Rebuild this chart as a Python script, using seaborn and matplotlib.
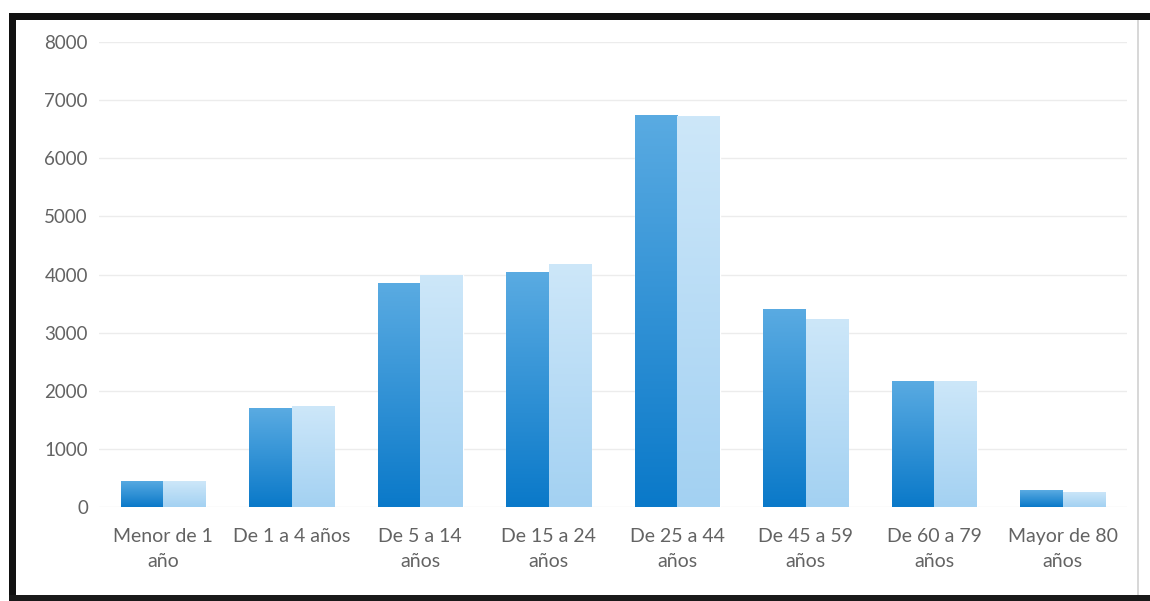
import numpy as np
import pandas as pd
import matplotlib
matplotlib.use("Agg")
import matplotlib.pyplot as plt
from matplotlib.patches import Rectangle
from matplotlib.colors import LinearSegmentedColormap
import seaborn as sns

# ---- data ----
categories = ["Menor de 1\naño", "De 1 a 4 años", "De 5 a 14\naños", "De 15 a 24\naños",
              "De 25 a 44\naños", "De 45 a 59\naños", "De 60 a 79\naños", "Mayor de 80\naños"]
series_names = ["Serie 1", "Serie 2"]
values_s1 = [450, 1700, 3850, 4040, 6750, 3410, 2170, 290]
values_s2 = [440, 1730, 3990, 4180, 6720, 3240, 2170, 260]
yticks = [0, 1000, 2000, 3000, 4000, 5000, 6000, 7000, 8000]

df = pd.DataFrame({
    "cat": categories * 2,
    "serie": [series_names[0]] * len(categories) + [series_names[1]] * len(categories),
    "valor": values_s1 + values_s2,
})

sns.set_theme(style="white")
plt.rcParams["font.family"] = ["Lato", "DejaVu Sans"]

W, H = 1150, 601
fig = plt.figure(figsize=(W / 100, H / 100), dpi=100)
fig.patch.set_facecolor("white")
ax = fig.add_axes([99 / W, 1 - 507 / H, (1127 - 99) / W, (507 - 42) / H])

base_cols = {"Serie 1": "#2a8fd6", "Serie 2": "#b8dcf5"}
sns.barplot(data=df, x="cat", y="valor", hue="serie", palette=base_cols,
            width=0.66, gap=0, ax=ax, legend=False, saturation=1, zorder=2)

# gradient fills clipped to each bar
grads = {
    "Serie 1": LinearSegmentedColormap.from_list("g1", ["#0a79c9", "#5aabe2"]),
    "Serie 2": LinearSegmentedColormap.from_list("g2", ["#a3d1f2", "#cde7f9"]),
}
grad = np.linspace(0, 1, 256).reshape(-1, 1)
bars = [p for p in ax.patches if p.get_height() > 0]
n = len(categories)
for i, p in enumerate(bars):
    sname = series_names[0] if i < n else series_names[1]
    x0, y0 = p.get_x(), p.get_y()
    w, h = p.get_width(), p.get_height()
    im = ax.imshow(grad, cmap=grads[sname], origin="lower", aspect="auto",
                   extent=[x0, x0 + w, y0, y0 + h], zorder=3)
    im.set_clip_path(p)

ax.set_xlim(-0.5, len(categories) - 0.5)
ax.set_ylim(0, 8000)
ax.set_yticks(yticks)
ax.set_yticklabels([str(v) for v in yticks])
ax.set_xlabel("")
ax.set_ylabel("")
ax.grid(axis="y", color="#ececec", linewidth=1.0, zorder=0)
ax.grid(axis="x", visible=False)
for s in ax.spines.values():
    s.set_visible(False)
ax.tick_params(axis="y", length=0, colors="#636363", labelsize=13.5, pad=8)
ax.tick_params(axis="x", length=0, colors="#636363", labelsize=14, pad=15)
for t in ax.get_xticklabels():
    t.set_linespacing(1.6)

# scanned frame around the chart
def px_rect(x0, y0, x1, y1, color):
    fig.add_artist(Rectangle((x0 / W, 1 - y1 / H), (x1 - x0) / W, (y1 - y0) / H,
                             transform=fig.transFigure, facecolor=color,
                             edgecolor="none", zorder=10))

px_rect(9, 13, 1150, 20, "#111111")     # top
px_rect(9, 13, 16, 601, "#111111")      # left
px_rect(9, 595, 1150, 601, "#1a1a1a")   # bottom
px_rect(1137, 20, 1139, 595, "#d8d8d8") # faint right edge

fig.savefig("out.png", dpi=100, facecolor="white")
